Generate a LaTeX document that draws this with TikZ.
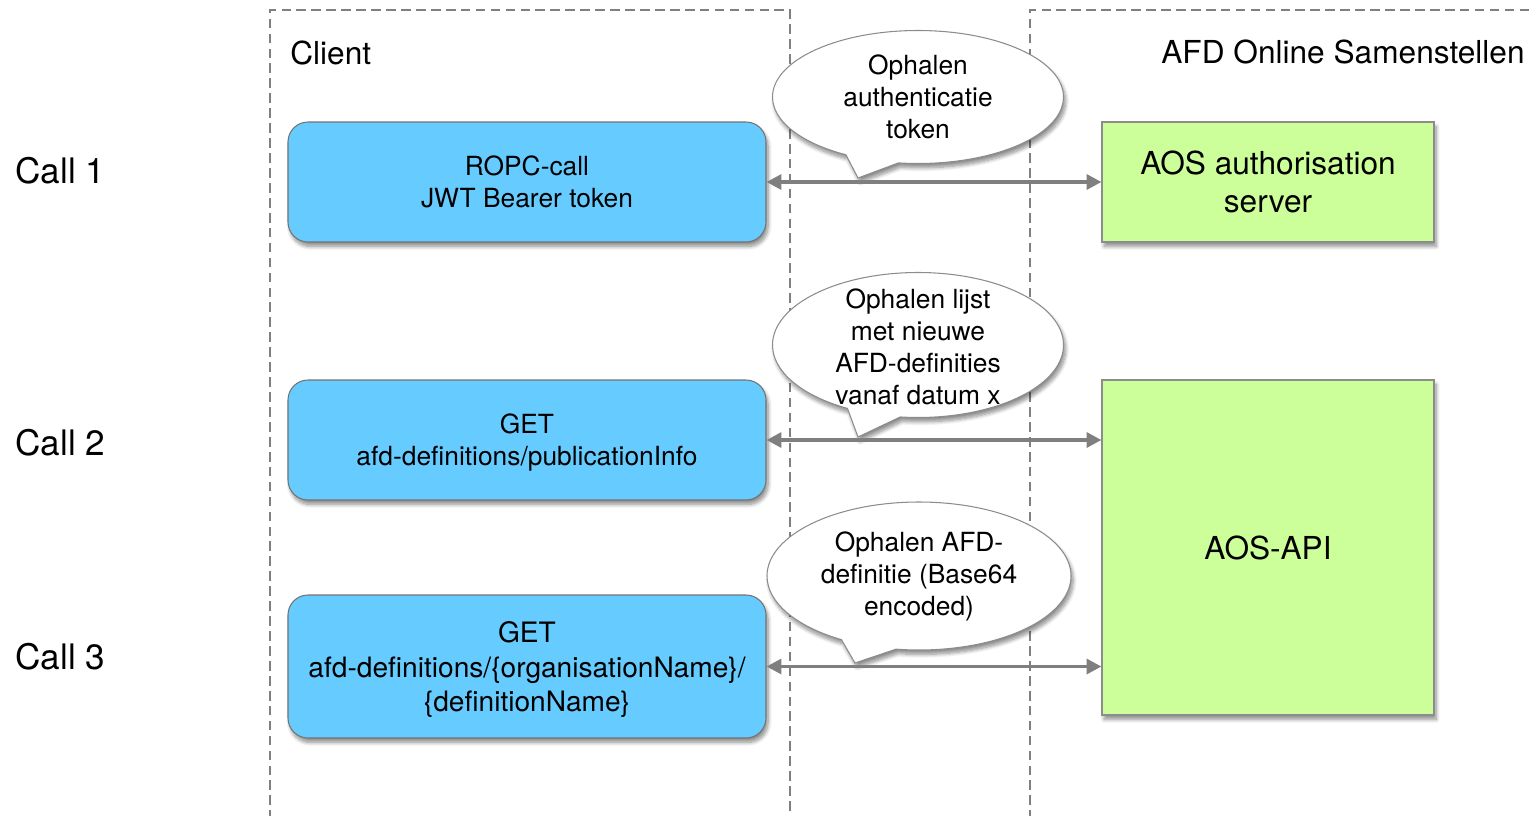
\documentclass[tikz,border=0pt]{standalone}
\usepackage{fontspec}
\setmainfont{TeX Gyre Heros}
\usetikzlibrary{arrows.meta,shapes.callouts,shadows.blur}

\definecolor{clientblue}{HTML}{66CCFF}
\definecolor{aosgreen}{HTML}{CCFF99}
\definecolor{linegray}{HTML}{7F7F7F}

\begin{document}
\begin{tikzpicture}[
    lane/.style={draw=black!50, line width=1.3pt, dash pattern=on 5.5pt off 3pt},
    calltitle/.style={anchor=west, inner sep=0pt, font=\fontsize{20}{24}\selectfont},
    lanetitle/.style={anchor=west, inner sep=0pt, font=\fontsize{18}{22}\selectfont},
    softshadow/.style={blur shadow={shadow xshift=1.2pt, shadow yshift=-2.5pt, shadow opacity=45, shadow blur steps=8}},
    clientbox/.style={rectangle, rounded corners=0.4cm, draw=black!55, line width=0.6pt, fill=clientblue, minimum width=9.56cm, minimum height=2.4cm, align=center, text depth=0pt, font=\fontsize{15}{18.2}\selectfont, softshadow},
    aosbox/.style={rectangle, draw=black!45, line width=0.6pt, fill=aosgreen, minimum width=6.64cm, minimum height=2.4cm, align=center, font=\fontsize{18}{22}\selectfont, softshadow},
    bubble/.style={ellipse callout, draw=black!45, line width=0.6pt, fill=white, inner sep=0pt, minimum width=5.82cm, minimum height=2.66cm, callout pointer arc=22, softshadow},
    bubtext/.style={align=center, font=\fontsize{15}{18.2}\selectfont},
    link/.style={{Triangle[length=8.5pt,width=8.5pt]}-{Triangle[length=8.5pt,width=8.5pt]}, draw=linegray, line width=2pt}
]
\useasboundingbox (0,0) rectangle (30.68,-16.3);

% Swimlanes
\draw[lane] (5.4,-16.4) |- (15.8,-0.2) -- (15.8,-16.4);
\draw[lane] (20.6,-16.4) |- (30.8,-0.2);
\node[lanetitle] (clienttitle) at (5.8,-1.06) {Client};
\node[lanetitle] (aostitle) at (23.22,-1.04) {AFD Online Samenstellen};

% Calls
\node[calltitle] (call1) at (0.3,-3.41) {Call 1};
\node[calltitle] (call2) at (0.3,-8.86) {Call 2};
\node[calltitle] (call3) at (0.3,-13.14) {Call 3};

% Client
\node[clientbox] (ropc) at (10.54,-3.64) {ROPC-call\\JWT Bearer token};
\node[clientbox] (pubinfo) at (10.54,-8.8) {GET\\afd-definitions/publicationInfo};
\node[clientbox, minimum height=2.86cm, font=\fontsize{16}{19.9}\selectfont] (defget) at (10.54,-13.33) {GET\\afd-definitions/\{organisationName\}/\\\{definitionName\}};

% AFD Online Samenstellen
\node[aosbox] (authserver) at (25.36,-3.64) {AOS authorisation\\server};
\node[aosbox, minimum height=6.7cm] (aosapi) at (25.36,-10.95) {AOS-API};

% Tekstballonnen
\node[bubble, callout absolute pointer={(17.16,-3.56)}, label={[bubtext]center:{Ophalen\\authenticatie\\token}}] (tokenbub) at (18.36,-1.94) {};
\node[bubble, minimum height=2.9cm, callout absolute pointer={(17.16,-8.74)}, label={[bubtext, yshift=-0.04cm]center:{Ophalen lijst\\met nieuwe\\AFD-definities\\vanaf datum x}}] (listbub) at (18.36,-6.9) {};
\node[bubble, minimum width=6.08cm, minimum height=2.96cm, callout absolute pointer={(17.1,-13.26)}, label={[bubtext]center:{Ophalen AFD-\\definitie (Base64\\encoded)}}] (defbub) at (18.38,-11.52) {};

% Calls
\draw[link] (ropc.east) -- (authserver.west);
\draw[link] (pubinfo.east) -- (pubinfo.east -| aosapi.west);
\draw[link] (defget.east) -- (defget.east -| aosapi.west);

\end{tikzpicture}
\end{document}
